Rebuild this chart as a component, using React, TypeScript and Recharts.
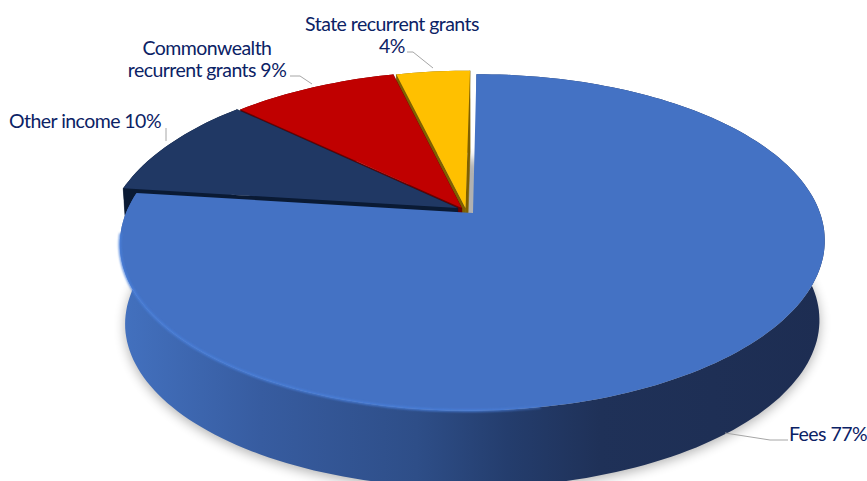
import { PieChart, Pie } from "recharts";

const categories = ["State recurrent grants", "Commonwealth recurrent grants", "Other income", "Fees"];
const shares = [4, 9, 10, 77];
const data = categories.map((name, i) => ({ name, value: shares[i] }));

const FONT = "Lato, 'Open Sans', sans-serif";
const TEXT = "#0b2265";
const LEADER = "#a6a6a6";

const TOP_COLORS = ["#ffc000", "#c00000", "#203864", "#4472c4"];
const WALL_COLORS = ["#7f6000", "#6b0000", "#0a1a34", "url(#feesWall)"];
// pull-out of each wedge, in units of the radius
const PULL = [[-0.022, 0.03], [-0.033, 0.03], [-0.045, 0.03], [0, 0]];

// perspective of the tilted disc
const SQUASH = 0.47;
const VANISH = 0.175;
const LEAN = 4;
const DEPTH = 80;
const BASE_SCALE = 0.985;

type Pt = [number, number];

function project(cx: number, cy: number, r: number, u: number, v: number, low = false): Pt {
  const w = 1 / (1 + VANISH * v);
  const s = low ? BASE_SCALE : 1;
  return [
    cx + s * (r * u + LEAN * v) * w,
    cy + (low ? DEPTH : 0) - s * r * SQUASH * v * w,
  ];
}

const toPath = (pts: Pt[], close = true) =>
  "M" + pts.map((p) => `${p[0].toFixed(1)},${p[1].toFixed(1)}`).join("L") + (close ? "Z" : "");

function arcAngles(start: number, end: number) {
  const n = Math.max(2, Math.ceil(Math.abs(end - start) / 1.5));
  return Array.from({ length: n + 1 }, (_, i) => ((start + ((end - start) * i) / n) * Math.PI) / 180);
}

function Wedge(props: any) {
  const { cx, cy, outerRadius: r, startAngle, endAngle, name } = props;
  const i = categories.indexOf(name);
  const [du, dv] = PULL[i];
  const angles = arcAngles(startAngle, endAngle);
  const at = (a: number, low = false) => project(cx, cy, r, Math.cos(a) + du, Math.sin(a) + dv, low);
  const hub = (low = false) => project(cx, cy, r, du, dv, low);

  const rimTop = angles.map((a) => at(a));
  const rimLow = angles.map((a) => at(a, true));
  const isFees = name === "Fees";

  const band = toPath([...rimTop, ...[...rimLow].reverse()]);
  const sideA = toPath([hub(), rimTop[0], rimLow[0], hub(true)]);
  const sideB = toPath([hub(), rimTop[rimTop.length - 1], rimLow[rimLow.length - 1], hub(true)]);

  return (
    <g>
      {/* first wedge painted, so the soft shadow stays under the whole disc */}
      {i === 0 && (
        <g>
          <defs>
            <linearGradient id="feesWall" gradientUnits="userSpaceOnUse" x1="120" y1="0" x2="826" y2="0">
              <stop offset="0" stopColor="#4371bf" />
              <stop offset="0.2" stopColor="#375ca0" />
              <stop offset="0.42" stopColor="#2e4e88" />
              <stop offset="0.55" stopColor="#243d6d" />
              <stop offset="0.68" stopColor="#1f3158" />
              <stop offset="1" stopColor="#1d2d52" />
            </linearGradient>
            <linearGradient id="feesGlint" gradientUnits="userSpaceOnUse" x1="120" y1="0" x2="600" y2="0">
              <stop offset="0" stopColor="#4a80dc" />
              <stop offset="0.75" stopColor="#4a80dc" />
              <stop offset="1" stopColor="#4a80dc" stopOpacity="0" />
            </linearGradient>
            <filter id="discShadow" x="-10%" y="-10%" width="120%" height="130%">
              <feGaussianBlur stdDeviation="6" />
            </filter>
            <filter id="glintBlur" x="-5%" y="-5%" width="110%" height="110%">
              <feGaussianBlur stdDeviation="0.8" />
            </filter>
          </defs>
          <path d={toPath(arcAngles(0, 360).map((a) => {
            const p = project(cx, cy, r, Math.cos(a), Math.sin(a), true);
            return [p[0], p[1] + 3] as Pt;
          }))} fill="#000" opacity={0.3} filter="url(#discShadow)" />
        </g>
      )}
      {!isFees && <path d={sideA} fill={WALL_COLORS[i]} stroke={WALL_COLORS[i]} strokeWidth={0.5} />}
      {!isFees && <path d={sideB} fill={WALL_COLORS[i]} stroke={WALL_COLORS[i]} strokeWidth={0.5} />}
      <path d={band} fill={WALL_COLORS[i]} />
      <path d={toPath([hub(), ...rimTop])} fill={TOP_COLORS[i]} />
      {isFees && (
        <path
          d={toPath(arcAngles(187, 280).map((a) => at(a)), false)}
          fill="none"
          stroke="url(#feesGlint)"
          strokeWidth={2.2}
          filter="url(#glintBlur)"
        />
      )}
    </g>
  );
}

// text placement and leader lines for each wedge
const LABEL_LINES = [
  ["State recurrent grants", "4%"],
  ["Commonwealth", "recurrent grants 9%"],
  ["Other income 10%"],
  ["Fees 77%"],
];
const LABEL_AT = [[392, 31], [207, 55], [85, 128], [828, 441]];
const LEADERS: Pt[][] = [
  [[407, 52], [413, 52], [433, 68]],
  [[290, 76], [300, 76], [312, 84]],
  [[166, 128], [166, 141]],
  [[788, 440], [770, 440], [725, 433]],
];

function WedgeLabel(props: any) {
  const i = props.index;
  const [x, y] = LABEL_AT[i];
  return (
    <text x={x} y={y} textAnchor="middle" fontFamily={FONT} fontSize={19.5} letterSpacing={-0.55} fill={TEXT}>
      {LABEL_LINES[i].map((line, n) => (
        <tspan key={line} x={x} dy={n === 0 ? 0 : 22}>{line}</tspan>
      ))}
    </text>
  );
}

function WedgeLeader(props: any) {
  return <path d={toPath(LEADERS[props.index], false)} fill="none" stroke={LEADER} strokeWidth={1} />;
}

export default function App() {
  return (
    <div style={{ position: "absolute", left: 0, top: 0, width: 867, height: 481, overflow: "hidden", background: "#fff" }}>
      <PieChart width={867} height={481} margin={{ top: 0, right: 0, bottom: 0, left: 0 }}>
        <Pie
          data={data}
          dataKey="value"
          nameKey="name"
          cx={473}
          cy={213}
          outerRadius={347}
          startAngle={90}
          endAngle={450}
          stroke="none"
          shape={Wedge}
          label={WedgeLabel}
          labelLine={WedgeLeader}
          isAnimationActive={false}
        />
      </PieChart>
    </div>
  );
}
